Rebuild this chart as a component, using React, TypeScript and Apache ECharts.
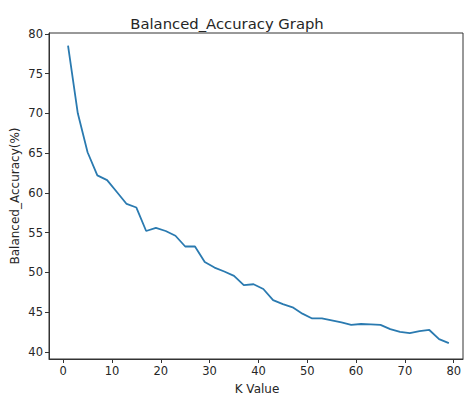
import React, { useEffect, useRef } from "react";
import * as echarts from "echarts";

const kValues = [1, 3, 5, 7, 9, 11, 13, 15, 17, 19, 21, 23, 25, 27, 29, 31, 33, 35, 37, 39, 41, 43, 45, 47, 49, 51, 53, 55, 57, 59, 61, 63, 65, 67, 69, 71, 73, 75, 77, 79];
const accuracy = [78.5, 70.0, 65.1, 62.2, 61.6, 60.1, 58.6, 58.15, 55.2, 55.6, 55.2, 54.6, 53.25, 53.25, 51.3, 50.6, 50.1, 49.55, 48.4, 48.5, 47.9, 46.5, 46.0, 45.6, 44.8, 44.2, 44.2, 43.95, 43.7, 43.4, 43.5, 43.45, 43.4, 42.85, 42.5, 42.35, 42.6, 42.75, 41.6, 41.1];
const xTicks = [0, 10, 20, 30, 40, 50, 60, 70, 80];
const yTicks = [40, 45, 50, 55, 60, 65, 70, 75, 80];

const FONT = "DejaVu Sans";
const TXT = "#262626";

export default function App() {
  const ref = useRef<HTMLDivElement>(null);
  useEffect(() => {
    const chart = echarts.init(ref.current!, null, { renderer: "svg" });
    chart.setOption({
      animation: false,
      backgroundColor: "#ffffff",
      textStyle: { fontFamily: FONT },
      title: {
        text: "Balanced_Accuracy Graph",
        left: 222,
        top: 11,
        textAlign: "center",
        textStyle: { fontFamily: FONT, fontSize: 14.8, fontWeight: "normal", color: TXT },
      },
      grid: {
        left: 49,
        top: 33,
        right: 2,
        bottom: 35,
        show: true,
        borderColor: "#333",
        borderWidth: 1,
        backgroundColor: "transparent",
      },
      xAxis: {
        type: "value",
        min: -2.9,
        max: 81.9,
        axisLine: { show: true, onZero: false, lineStyle: { color: "#333", width: 1 } },
        axisTick: { show: true, length: 4, customValues: xTicks, lineStyle: { color: "#333" } },
        axisLabel: { customValues: xTicks, fontFamily: FONT, fontSize: 11.5, color: TXT, margin: 6 },
        splitLine: { show: false },
      },
      yAxis: {
        type: "value",
        min: 39.1,
        max: 80.1,
        axisLine: { show: true, onZero: false, lineStyle: { color: "#333", width: 1 } },
        axisTick: { show: true, length: 4, customValues: yTicks, lineStyle: { color: "#333" } },
        axisLabel: { customValues: yTicks, fontFamily: FONT, fontSize: 11.5, color: TXT, margin: 6 },
        splitLine: { show: false },
      },
      graphic: [
        {
          type: "text",
          x: 257,
          y: 388.5,
          style: {
            text: "K Value",
            fontFamily: FONT,
            fontSize: 12,
            fill: TXT,
            align: "center",
            verticalAlign: "middle",
          },
        },
        {
          type: "text",
          x: 15,
          y: 196,
          rotation: Math.PI / 2,
          style: {
            text: "Balanced_Accuracy(%)",
            fontFamily: FONT,
            fontSize: 12,
            fill: TXT,
            align: "center",
            verticalAlign: "middle",
          },
        },
      ],
      series: [
        {
          type: "line",
          data: kValues.map((k, i) => [k, accuracy[i]]),
          showSymbol: false,
          symbol: "none",
          lineStyle: { color: "#2a7ab0", width: 1.8 },
          itemStyle: { color: "#2a7ab0" },
        },
      ],
    });
    return () => chart.dispose();
  }, []);
  return (
    <div
      ref={ref}
      style={{ position: "fixed", left: 0, top: 0, width: 465, height: 394 }}
    />
  );
}
